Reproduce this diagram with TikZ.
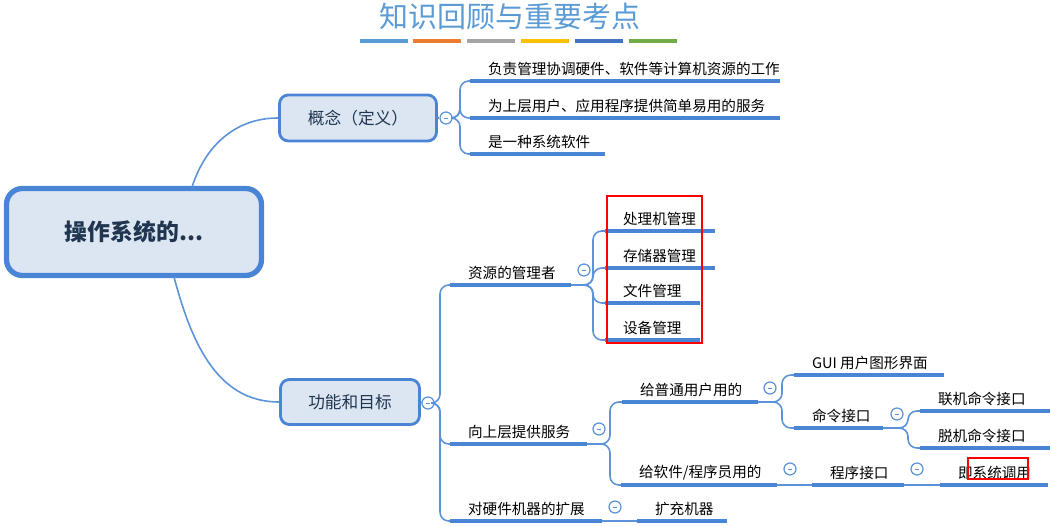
\documentclass[tikz,border=0pt]{standalone}
\usepackage{fontspec}
\setmainfont{Noto Sans CJK SC}
\usetikzlibrary{calc}
\definecolor{ln}{HTML}{4A84D4}
\definecolor{cn}{HTML}{5B92D8}
\definecolor{bx}{HTML}{DCE6F2}
\definecolor{tt}{HTML}{5B9BD5}
\definecolor{dk}{HTML}{1F3550}
\tikzset{
 ul/.style={draw=ln,line width=1.8pt},
 conn/.style={draw=cn,line width=0.9pt,rounded corners=5pt},
 lbl/.style={anchor=south west,inner sep=1pt,font=\fontsize{8.3}{9}\selectfont},
 box/.style={draw=ln,fill=bx,text=dk,rounded corners=5pt,line width=1.6pt,font=\fontsize{9.5}{11}\selectfont},
 circ/.style={circle,draw=cn,fill=white,line width=0.7pt,minimum size=0.24cm,inner sep=0pt,
   path picture={\draw[cn,line width=0.5pt] ([xshift=-1.2pt]path picture bounding box.center) -- ([xshift=1.2pt]path picture bounding box.center);}},
 redb/.style={draw=red,line width=1.2pt}
}
\newcommand\leaf[5]{\coordinate (#1s) at (#2,#4); \coordinate (#1e) at (#3,#4);
  \draw[ul] (#1s)--(#1e); \node[lbl] (#1) at (#2+16,#4-3) {#5};}
\newcommand\br[3]{\draw[conn] (#1) -- (#2,0 |- #1) |- (#3);}
\begin{document}
\begin{tikzpicture}[x=0.02cm,y=-0.02cm]
\useasboundingbox (0,0) rectangle (1051,526);
% title
\node[text=tt,font=\fontsize{16.5}{18}\selectfont] (title) at (510,17) {知识回顾与重要考点};
\foreach \a/\c in {360/5B9BD5,413/ED7D31,467/A5A5A5,521/FFC000,575/4472C4,629/70AD47}
  {\definecolor{bc}{HTML}{\c}\draw[bc,line width=2.8pt] (\a,41) -- (\a+48,41);}
% root and main boxes
\node[box,line width=3pt,rounded corners=9pt,minimum width=5.1cm,minimum height=1.74cm,font=\bfseries\fontsize{13}{15}\selectfont] (root) at (134,232) {操作系统的...};
\node[box,minimum width=3.14cm,minimum height=0.92cm] (gn) at (358,118) {概念（定义）};
\node[box,minimum width=2.78cm,minimum height=0.9cm] (gm) at (350,402) {功能和目标};
\coordinate (rt) at (192,187); \coordinate (rb) at (174,277);
\draw[conn] (rt) to[out=72,in=180] (gn.west);
\draw[conn] (rb) to[out=-75,in=180] (gm.west);
% concept
\node[circ] (c1) at (446,118) {};
\draw[conn] (gn.east) -- (c1.west);
\leaf{d1}{470}{780}{81}{负责管理协调硬件、软件等计算机资源的工作}
\leaf{d2}{470}{780}{118}{为上层用户、应用程序提供简单易用的服务}
\leaf{d3}{470}{605}{154}{是一种系统软件}
\br{c1.east}{460}{d1s} \br{c1.east}{460}{d2s} \br{c1.east}{460}{d3s}
% function
\node[circ] (c2) at (428,403) {};
\draw[conn] (gm.east) -- (c2.west);
\leaf{res}{450}{571}{285}{资源的管理者}
\leaf{up}{450}{587}{444}{向上层提供服务}
\leaf{hw}{450}{602}{521}{对硬件机器的扩展}
\br{c2.east}{440}{ress} \br{c2.east}{440}{ups} \br{c2.east}{440}{hws}
% resources
\node[circ] (c3) at (584,270) {};
\leaf{r1}{605}{715}{231}{处理机管理}
\leaf{r2}{605}{715}{268}{存储器管理}
\leaf{r3}{605}{700}{303}{文件管理}
\leaf{r4}{605}{700}{340}{设备管理}
\br{rese}{593}{r1s} \br{rese}{593}{r2s} \br{rese}{593}{r3s} \br{rese}{593}{r4s}
\draw[redb] (607,196) rectangle (702,343);
% services
\node[circ] (c4) at (599,429) {};
\leaf{pu}{622}{758}{402}{给普通用户用的}
\leaf{pp}{621}{777}{485}{给软件/程序员用的}
\br{upe}{610}{pus} \br{upe}{610}{pps}
\node[circ] (c5) at (770,388) {};
\leaf{gui}{794}{944}{375}{GUI 用户图形界面}
\leaf{cmd}{794}{883}{428}{命令接口}
\br{pue}{782}{guis} \br{pue}{782}{cmds}
\node[circ] (c6) at (897,414) {};
\leaf{on}{920}{1050}{411}{联机命令接口}
\leaf{off}{920}{1050}{448}{脱机命令接口}
\br{cmde}{908}{ons} \br{cmde}{908}{offs}
\node[circ] (c7) at (790,469) {};
\leaf{pi}{812}{904}{485}{程序接口}
\draw[conn] (ppe) -- (pis);
\node[circ] (c8) at (917,469) {};
\leaf{sc}{940}{1048}{485}{即系统调用}
\draw[conn] (pie) -- (scs);
\draw[redb] (968,458) rectangle (1028,479);
% hardware
\node[circ] (c9) at (615,507) {};
\leaf{ex}{637}{727}{521}{扩充机器}
\draw[conn] (hwe) -- (exs);
\end{tikzpicture}
\end{document}
